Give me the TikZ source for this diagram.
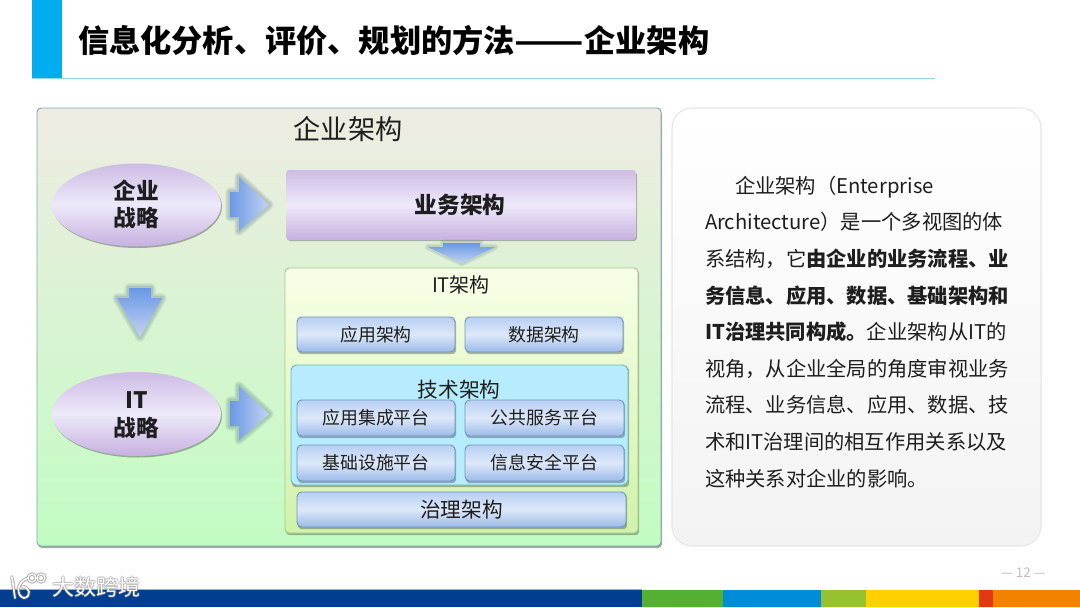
\documentclass[tikz,border=0pt]{standalone}
\usepackage{fontspec}
\usepackage{graphicx}
\setmainfont{Noto Sans CJK SC}
\usetikzlibrary{calc}
\definecolor{txt}{HTML}{1E1E1E}
\newcommand{\fs}[1]{\fontsize{#1}{#1}\selectfont}
\tikzset{
  x=0.75pt,y=-0.75pt,
  pxbox/.style={inner sep=0pt,outer sep=0pt},
  softshadow/.style={fill=black,opacity=.28,rounded corners=2.5pt,draw=none},
  subbox/.style={draw=#1,line width=.7pt,rounded corners=3.5pt,top color=subTop,bottom color=subBot,middle color=subMid},
  purple box/.style={draw=none,top color=purTop,bottom color=purBot,middle color=purMid},
  labelbox/.style={text=txt,font=\fs{13.4}},
  glow/.style={draw=arrowGlow,line join=round,opacity=.10,fill=none},
  blockarrow/.style={draw=none,left color=arrowA,right color=arrowB},
  blockdown/.style={draw=none,top color=arrowA,bottom color=arrowB},
}
\definecolor{subTop}{HTML}{B8CFF3}
\definecolor{subMid}{HTML}{DDE8F9}
\definecolor{subBot}{HTML}{9CBAE9}
\definecolor{subEdge}{HTML}{6F96B8}
\definecolor{purTop}{HTML}{CDBCE4}
\definecolor{purMid}{HTML}{EEE9FA}
\definecolor{purBot}{HTML}{C6B0DF}
\definecolor{arrowA}{HTML}{6A98E4}
\definecolor{arrowB}{HTML}{C3D3F2}
\definecolor{arrowGlow}{HTML}{3A5A70}
\newcommand{\softbox}[5]{% x1 y1 x2 y2 name
  \fill[softshadow] (#1+1,#2+2) rectangle (#3+1,#4+2);
  \draw[subbox=subEdge] (#1,#2) rectangle (#3,#4);
  \coordinate (#5) at ({(#1+#3)/2},{(#2+#4)/2});
}
\newcommand{\rarrowpath}[1]{(230,#1-13) -- (239,#1-13) -- (239,#1-28) -- (269,#1) -- (239,#1+26) -- (239,#1+12) -- (230,#1+12) -- cycle}
\newcommand{\rarrow}[1]{%
  \foreach \w in {7,5,3}{\draw[glow,line width=\w pt] \rarrowpath{#1};}
  \shade[blockarrow] \rarrowpath{#1};
}
\newcommand{\dnpathA}{(129,288) -- (151,288) -- (151,298) -- (162,298) -- (140,337) -- (117,298) -- (129,298) -- cycle}
\newcommand{\dnpathB}{(443,243) -- (480,243) -- (480,247) -- (495,247) -- (462,263) -- (428,247) -- (443,247) -- cycle}
\begin{document}
\begin{tikzpicture}
\useasboundingbox (0,0) rectangle (1080,607);
\fill[white] (0,0) rectangle (1080,607);
% header
\fill[color={rgb,255:red,0;green,174;blue,239}] (32,0) rectangle (62,78);
\draw[color={rgb,255:red,143;green,216;blue,232},line width=.9pt] (32,78.5) -- (935,78.5);
\node[pxbox,anchor=west,text=black,font=\fs{23.4}\bfseries] (title) at (78,41) {信息化分析、评价、规划的方法\scalebox{1.3}[1]{——}企业架构};
% main panel
\fill[black,opacity=.35,rounded corners=3pt] (38,110) rectangle (662,548);
\shade[rounded corners=3pt,top color={rgb,255:red,238;green,236;blue,226},middle color={rgb,255:red,228;green,242;blue,216},bottom color={rgb,255:red,194;green,252;blue,194},draw={rgb,255:red,122;green,170;blue,170},line width=.7pt] (37,108) rectangle (661,546);
\node[pxbox,text=txt,font=\fs{20.4}] (panelT) at (348,129) {企业架构};
% ellipses
\fill[black,opacity=.3] (137.5,206.5) ellipse [x radius=84.5,y radius=41.5];
\shade[purple box] (136.5,205) ellipse [x radius=84.5,y radius=41.5];
\node[pxbox,align=center,text=txt,font=\fs{17}\bfseries] (strat) at (136.5,204.5) {企业\\[3pt]战略};
\fill[black,opacity=.3] (137.5,415.5) ellipse [x radius=84.5,y radius=42];
\shade[purple box] (136.5,414) ellipse [x radius=84.5,y radius=42];
\node[pxbox,align=center,text=txt,font=\fs{17}\bfseries] (itstrat) at (136.5,415) {IT\\[3.5pt]战略};
% arrows
\rarrow{205}
\rarrow{414}
\foreach \w in {7,5,3}{\draw[glow,line width=\w pt] \dnpathA;}
\shade[blockdown] \dnpathA;
% business box
\fill[softshadow] (287,172) rectangle (637,241);
\shade[purple box,rounded corners=2.5pt] (286,170) rectangle (636,240);
\node[pxbox,text=txt,font=\fs{17}\bfseries] (biz) at (460,205) {业务架构};
% small down arrow
\foreach \w in {5,3}{\draw[glow,line width=\w pt] \dnpathB;}
\shade[blockdown] \dnpathB;
% IT box
\fill[softshadow] (286,270) rectangle (639,535);
\shade[rounded corners=3pt,top color={rgb,255:red,248;green,255;blue,232},middle color={rgb,255:red,232;green,250;blue,196},bottom color={rgb,255:red,208;green,242;blue,170},draw={rgb,255:red,168;green,200;blue,130},line width=.7pt] (285,268) rectangle (638,533);
\node[pxbox,labelbox,font=\fs{15}] (itT) at (461,285) {IT架构};
\softbox{297}{317}{455}{352}{b1}
\node[pxbox,labelbox] at (b1) {应用架构};
\softbox{465}{317}{623}{352}{b2}
\node[pxbox,labelbox] at (b2) {数据架构};
% tech box
\fill[softshadow] (292,367) rectangle (629,487);
\shade[rounded corners=4pt,top color={rgb,255:red,182;green,236;blue,253},middle color={rgb,255:red,218;green,241;blue,240},bottom color={rgb,255:red,182;green,238;blue,255},draw={rgb,255:red,110;green,180;blue,190},line width=.7pt] (291,365) rectangle (628,485);
\node[pxbox,text=txt,font=\fs{15.5}] (techT) at (459,390) {技术架构};
\softbox{297}{400}{455}{436}{c1}
\node[pxbox,labelbox] at (c1) {应用集成平台};
\softbox{465}{400}{624}{436}{c2}
\node[pxbox,labelbox] at (c2) {公共服务平台};
\softbox{297}{445}{455}{481}{c3}
\node[pxbox,labelbox] at (c3) {基础设施平台};
\softbox{465}{445}{624}{481}{c4}
\node[pxbox,labelbox] at (c4) {信息安全平台};
\softbox{297}{492}{626}{527}{d1}
\node[pxbox,text=txt,font=\fs{15.5}] at (d1) {治理架构};
% right panel
\shade[rounded corners=15pt,top color=white,bottom color={rgb,255:red,243;green,243;blue,243},draw={rgb,255:red,230;green,230;blue,230},line width=.8pt] (672,108) rectangle (1041,546);
\node[pxbox,anchor=north west,align=left,text=txt,font=\fontsize{15.2}{27.45}\selectfont] (body) at (705,176) {%
\hspace*{22.5pt}企业架构（Enterprise\\
Architecture）是一个多视图的体\\
系结构，它\textbf{由企业的业务流程、业}\\
\textbf{务信息、应用、数据、基础架构和}\\
\textbf{IT治理共同构成。}企业架构从IT的\\
视角，从企业全局的角度审视业务\\
流程、业务信息、应用、数据、技\\
术和IT治理间的相互作用关系以及\\
这种关系对企业的影响。};
% footer
\fill[color={rgb,255:red,0;green,63;blue,143}] (0,590) rectangle (642,607);
\fill[color={rgb,255:red,83;green,176;blue,51}] (642,590) rectangle (723,607);
\fill[color={rgb,255:red,0;green,140;blue,214}] (723,590) rectangle (821,607);
\fill[color={rgb,255:red,150;green,194;blue,50}] (821,590) rectangle (866,607);
\fill[color={rgb,255:red,255;green,208;blue,0}] (866,590) rectangle (979,607);
\fill[color={rgb,255:red,228;green,56;blue,20}] (979,590) rectangle (993,607);
\fill[color={rgb,255:red,243;green,130;blue,0}] (993,590) rectangle (1080,607);
\draw[color={rgb,255:red,120;green,190;blue,220},line width=.5pt] (0,589.5) -- (642,589.5);
\node[pxbox,anchor=west,text={rgb,255:red,190;green,190;blue,190},font=\fs{10}] (pg) at (1001,573) {— 12 —};
% watermark
\foreach \dx/\dy in {-1/0,1/0,0/-1,0/1}{
  \node[pxbox,anchor=west,text=gray,opacity=.45,font=\fs{16.5}] at (52+\dx,587+\dy) {大数跨境};
  \draw[gray,opacity=.45,line width=1.4pt,line cap=round] (12+\dx,577+\dy) -- (15+\dx,598+\dy);
  \draw[gray,opacity=.45,line width=1.4pt,line cap=round] (28+\dx,578+\dy) .. controls (16+\dx,582+\dy) and (16+\dx,596+\dy) .. (24+\dx,598+\dy) .. controls (32+\dx,597+\dy) and (30+\dx,586+\dy) .. (22+\dx,587+\dy);
  \draw[gray,opacity=.45,line width=1.2pt] (32+\dx,578+\dy) circle [radius=4];
  \draw[gray,opacity=.45,line width=1.2pt] (41+\dx,578+\dy) circle [radius=4];
}
\node[pxbox,anchor=west,text=white,font=\fs{16.5}] (wm) at (52,587) {大数跨境};
\draw[white,line width=1.2pt,line cap=round] (12,577) -- (15,598);
\draw[white,line width=1.2pt,line cap=round] (28,578) .. controls (16,582) and (16,596) .. (24,598) .. controls (32,597) and (30,586) .. (22,587);
\draw[white,line width=1pt] (32,578) circle [radius=4];
\draw[white,line width=1pt] (41,578) circle [radius=4];
\end{tikzpicture}
\end{document}
